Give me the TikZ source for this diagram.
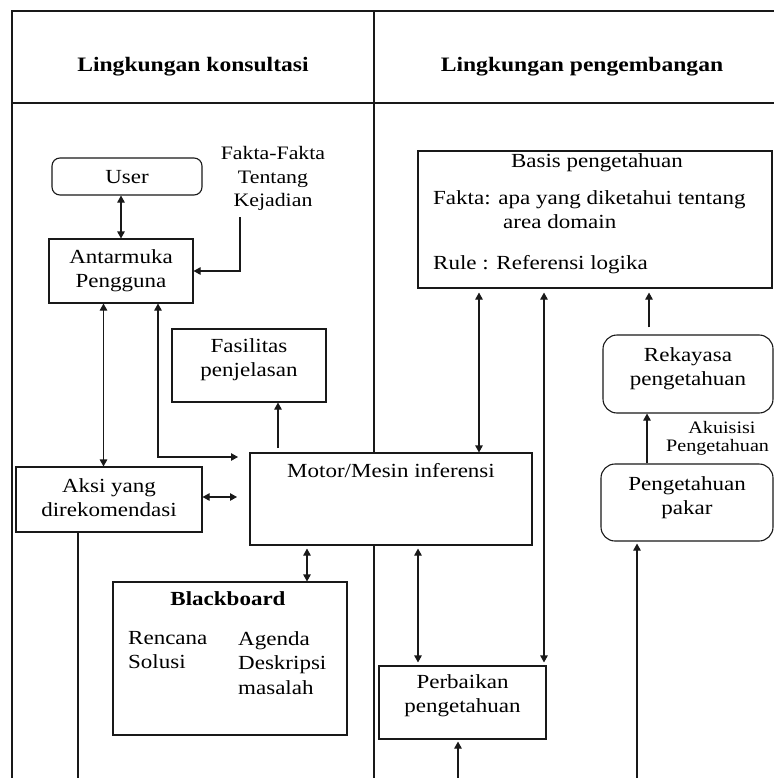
\documentclass[tikz,border=0pt]{standalone}
\usepackage{fontspec}
\setmainfont{Liberation Serif}[FakeStretch=1.15]
\usetikzlibrary{arrows.meta}
\tikzset{
  ln/.style={line width=1.1pt, draw=black!90},
  box/.style={ln, rectangle, fill=white, inner sep=0pt},
  rbox/.style={box, rounded corners=8pt},
  rrbox/.style={box, rounded corners=14pt},
  txt/.style={inner sep=0pt, align=center, font=\fontsize{20}{24.5}\selectfont},
  stxt/.style={inner sep=0pt, align=center, font=\fontsize{17.5}{19}\selectfont},
  hdr/.style={inner sep=0pt, font=\fontsize{20.5}{24}\selectfont\bfseries},
  arr/.style={ln, -{Triangle[length=7pt,width=7.5pt]}},
  dbl/.style={ln, {Triangle[length=7pt,width=7.5pt]}-{Triangle[length=7pt,width=7.5pt]}},
}
\begin{document}
\begin{tikzpicture}[x=1pt,y=-1pt]
\useasboundingbox (0,0) rectangle (774,778);
% frame
\draw[ln, line width=1.3pt] (12,778) -- (12,11) -- (774,11);
\draw[ln, line width=1.3pt] (12,103) -- (774,103);
\draw[ln, line width=1.3pt] (374,11) -- (374,778);
\node[hdr] (h1) at (193,67) {Lingkungan konsultasi};
\node[hdr] (h2) at (582,67) {Lingkungan pengembangan};

% left boxes
\node[rbox, minimum width=150pt, minimum height=37pt] (user) at (127,176.5) {};
\node[txt] (userT) at (127,177) {User};
\node[box, minimum width=144pt, minimum height=64pt] (ant) at (121,271) {};
\node[txt] (antT) at (121,270.5) {Antarmuka\\Pengguna};
\node[txt, font=\fontsize{19}{23.5}\selectfont] (fakta) at (273,178.5) {Fakta-Fakta\\Tentang\\Kejadian};
\node[box, minimum width=154pt, minimum height=73pt] (fas) at (249,365.5) {};
\node[txt] (fasT) at (249,359.5) {Fasilitas\\penjelasan};
\node[box, minimum width=186pt, minimum height=65pt] (aksi) at (109,499.5) {};
\node[txt] (aksiT) at (109,497.5) {Aksi yang\\direkomendasi};
\node[box, minimum width=282pt, minimum height=92pt] (mot) at (391,499) {};
\node[txt] (motT) at (391,471) {Motor/Mesin inferensi};
\node[box, minimum width=234pt, minimum height=153pt] (bb) at (230,658.5) {};
\node[txt, font=\fontsize{20}{24.5}\selectfont\bfseries] (bbT) at (228,599) {Blackboard};
\node[txt, align=left, anchor=north west] (bb1) at (128,631) {Rencana\\Solusi};
\node[txt, align=left, anchor=north west] (bb2) at (238,631) {Agenda\\Deskripsi\\masalah};

% right boxes
\node[box, minimum width=354pt, minimum height=137pt] (bas) at (595,219.5) {};
\node[txt] (basT) at (597,163) {Basis pengetahuan};
\node[txt, anchor=west] (bas1) at (433,200) {Fakta: apa yang diketahui tentang};
\node[txt, anchor=west] (bas2) at (503,222) {area domain};
\node[txt, anchor=west] (bas3) at (433,265) {Rule : Referensi logika};
\node[rrbox, minimum width=170pt, minimum height=78pt] (rek) at (688,374) {};
\node[txt] (rekT) at (688,368.5) {Rekayasa\\pengetahuan};
\node[rrbox, minimum width=172pt, minimum height=77pt] (pak) at (687,502.5) {};
\node[txt] (pakT) at (687,497.5) {Pengetahuan\\pakar};
\node[stxt] (ak1) at (722,428) {Akuisisi};
\node[stxt, anchor=west] (ak2) at (666,447) {Pengetahuan};
\node[box, minimum width=167pt, minimum height=73pt] (perb) at (462.5,702.5) {};
\node[txt] (perbT) at (462.5,695.5) {Perbaikan\\pengetahuan};

% connectors
\draw[dbl] (user.south -| ant) -- (ant.north);
\coordinate (fk) at (240,217);
\draw[arr] (fk) |- (ant.east);
\draw[dbl] (103.5,0 |- ant.south) -- (103.5,0 |- aksi.north);
\coordinate (m1) at (238,457);
\draw[dbl] (158,0 |- ant.south) |- (m1);
\coordinate (m2) at (237,497);
\draw[dbl] (m2 -| aksi.east) -- (m2);
\coordinate (m3) at (278,448);
\draw[arr] (m3) -- (m3 |- fas.south);
\draw[dbl, shorten <=3pt] (307,0 |- mot.south) -- (307,0 |- bb.north);
\draw[dbl, shorten <=4pt] (479,0 |- bas.south) -- (479,0 |- mot.north);
\draw[dbl, shorten <=4pt, shorten >=3pt] (544,0 |- bas.south) -- (544,0 |- perb.north);
\draw[dbl, shorten <=3pt, shorten >=3pt] (418,0 |- mot.south) -- (418,0 |- perb.north);
\draw[arr, shorten <=7pt, shorten >=4pt] (649,0 |- rek.north) -- (649,0 |- bas.south);
\draw[arr] (647,0 |- pak.north) -- (647,0 |- rek.south);
\coordinate (b1) at (458,778);
\draw[arr, shorten >=2pt] (b1) -- (b1 |- perb.south);
\coordinate (b2) at (637,778);
\draw[arr, shorten >=2pt] (b2) -- (b2 |- pak.south);
\coordinate (b3) at (78,778);
\draw[ln] (b3 |- aksi.south) -- (b3);
\end{tikzpicture}
\end{document}
